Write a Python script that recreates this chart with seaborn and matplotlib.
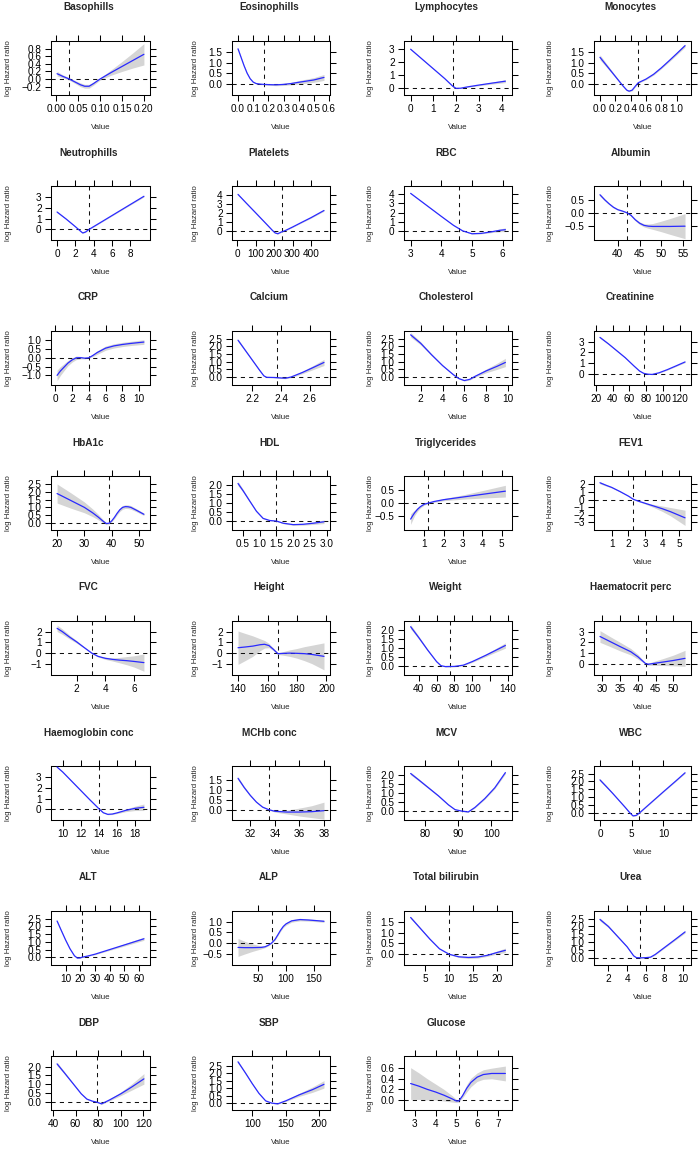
import numpy as np
import pandas as pd
import seaborn as sns
import matplotlib.pyplot as plt

sns.set_style("ticks")
plt.rcParams["font.family"] = ["Liberation Sans", "DejaVu Sans"]

# --- values (x, log HR, half width of the CI band) ---
basophills_x = [0.002, 0.015, 0.03, 0.045, 0.055, 0.065, 0.075, 0.085, 0.10, 0.125, 0.15, 0.175, 0.20]
basophills_y = [0.14, 0.07, 0.0, -0.09, -0.15, -0.19, -0.19, -0.12, 0.0, 0.17, 0.33, 0.49, 0.65]
basophills_ci = [0.06, 0.04, 0.03, 0.04, 0.05, 0.05, 0.05, 0.04, 0.03, 0.07, 0.13, 0.2, 0.28]

eosinophills_x = [0.0, 0.02, 0.04, 0.06, 0.08, 0.10, 0.12, 0.15, 0.2, 0.25, 0.3, 0.35, 0.4, 0.5, 0.567]
eosinophills_y = [1.65, 1.25, 0.85, 0.5, 0.24, 0.08, 0.01, -0.02, -0.04, -0.05, -0.03, 0.01, 0.07, 0.18, 0.3]
eosinophills_ci = [0.04, 0.03, 0.03, 0.03, 0.02, 0.02, 0.02, 0.02, 0.03, 0.04, 0.05, 0.06, 0.08, 0.11, 0.14]

lymphocytes_x = [0, 0.5, 1.0, 1.5, 1.85, 2.0, 2.2, 2.5, 3.0, 3.5, 4.17]
lymphocytes_y = [2.95, 2.2, 1.45, 0.7, 0.12, -0.05, -0.04, 0.06, 0.2, 0.33, 0.5]
lymphocytes_ci = [0.04, 0.03, 0.03, 0.02, 0.02, 0.02, 0.02, 0.03, 0.05, 0.07, 0.11]

monocytes_x = [0.0, 0.1, 0.2, 0.3, 0.35, 0.38, 0.42, 0.46, 0.5, 0.6, 0.7, 0.8, 0.9, 1.0, 1.11]
monocytes_y = [1.25, 0.8, 0.35, -0.1, -0.3, -0.35, -0.3, -0.12, 0.05, 0.22, 0.45, 0.75, 1.08, 1.42, 1.8]
monocytes_ci = [0.12, 0.08, 0.05, 0.03, 0.03, 0.03, 0.03, 0.03, 0.03, 0.03, 0.04, 0.04, 0.05, 0.06, 0.07]

neutrophills_x = [0, 1, 2, 2.5, 2.8, 3.1, 3.5, 5, 7, 9.5]
neutrophills_y = [1.6, 0.95, 0.25, -0.12, -0.33, -0.25, 0.0, 0.76, 1.78, 3.05]
neutrophills_ci = [0.06, 0.04, 0.03, 0.03, 0.03, 0.03, 0.03, 0.03, 0.04, 0.06]

platelets_x = [5, 50, 100, 150, 190, 205, 220, 240, 260, 300, 350, 400, 470]
platelets_y = [4.1, 3.12, 2.05, 0.97, 0.1, -0.2, -0.3, -0.1, 0.05, 0.45, 0.98, 1.5, 2.3]
platelets_ci = [0.06, 0.05, 0.04, 0.04, 0.04, 0.04, 0.04, 0.04, 0.04, 0.04, 0.05, 0.06, 0.08]

rbc_x = [3.0, 3.5, 4.0, 4.4, 4.7, 5.0, 5.3, 5.6, 5.9, 6.09]
rbc_y = [4.1, 2.85, 1.6, 0.62, 0.02, -0.29, -0.25, -0.1, 0.08, 0.15]
rbc_ci = [0.04, 0.03, 0.03, 0.03, 0.03, 0.04, 0.05, 0.08, 0.15, 0.2]

albumin_x = [35.9, 37, 38, 39, 40, 41, 42, 43, 44, 45, 46, 47, 48, 50, 52, 55.4]
albumin_y = [0.69, 0.5, 0.35, 0.22, 0.13, 0.08, 0.02, -0.08, -0.25, -0.38, -0.46, -0.49, -0.5, -0.5, -0.5, -0.49]
albumin_ci = [0.05, 0.04, 0.03, 0.03, 0.02, 0.02, 0.02, 0.03, 0.04, 0.05, 0.06, 0.08, 0.11, 0.2, 0.3, 0.47]

crp_x = [0.2, 0.6, 1.0, 1.5, 2.0, 2.5, 3.0, 3.5, 4.0, 4.5, 5.0, 6.0, 7.0, 8.0, 9.0, 10.6]
crp_y = [-1.0, -0.75, -0.55, -0.3, -0.12, 0.0, 0.01, -0.02, 0.0, 0.14, 0.3, 0.55, 0.68, 0.76, 0.82, 0.9]
crp_ci = [0.3, 0.25, 0.2, 0.15, 0.12, 0.1, 0.07, 0.04, 0.02, 0.06, 0.1, 0.12, 0.12, 0.12, 0.12, 0.13]

calcium_x = [2.10, 2.15, 2.20, 2.25, 2.28, 2.30, 2.35, 2.40, 2.43, 2.47, 2.55, 2.62, 2.70]
calcium_y = [2.4, 1.75, 1.1, 0.45, 0.08, -0.02, -0.03, -0.06, -0.08, 0.0, 0.3, 0.6, 0.95]
calcium_ci = [0.08, 0.06, 0.05, 0.04, 0.03, 0.02, 0.02, 0.03, 0.03, 0.04, 0.08, 0.13, 0.2]

cholesterol_x = [1.08, 2, 3, 4, 5, 5.5, 6, 6.5, 7, 8, 9, 9.76]
cholesterol_y = [2.75, 2.2, 1.45, 0.75, 0.15, -0.1, -0.23, -0.15, 0.05, 0.4, 0.7, 0.95]
cholesterol_ci = [0.15, 0.1, 0.06, 0.04, 0.03, 0.03, 0.03, 0.04, 0.06, 0.12, 0.2, 0.27]

creatinine_x = [25, 35, 45, 55, 65, 72, 77, 82, 87, 95, 105, 115, 126]
creatinine_y = [3.4, 2.8, 2.15, 1.5, 0.75, 0.25, 0.03, -0.05, -0.07, 0.08, 0.38, 0.72, 1.1]
creatinine_ci = [0.08, 0.06, 0.05, 0.04, 0.03, 0.02, 0.02, 0.02, 0.02, 0.03, 0.04, 0.05, 0.06]

hba1c_x = [20, 25, 30, 33, 35, 37, 38, 39, 40, 41, 42, 43, 44, 45, 46, 47, 49, 51.8]
hba1c_y = [1.9, 1.45, 1.0, 0.65, 0.38, 0.08, -0.05, -0.03, 0.12, 0.35, 0.62, 0.85, 1.0, 1.05, 1.04, 1.0, 0.82, 0.55]
hba1c_ci = [0.62, 0.5, 0.35, 0.25, 0.18, 0.1, 0.07, 0.05, 0.06, 0.08, 0.1, 0.11, 0.12, 0.12, 0.12, 0.12, 0.1, 0.08]

hdl_x = [0.35, 0.5, 0.7, 0.9, 1.1, 1.3, 1.5, 1.7, 2.0, 2.3, 2.6, 2.92]
hdl_y = [2.1, 1.7, 1.12, 0.55, 0.15, 0.03, 0.0, -0.12, -0.2, -0.18, -0.12, -0.04]
hdl_ci = [0.12, 0.08, 0.05, 0.04, 0.03, 0.02, 0.02, 0.03, 0.04, 0.05, 0.07, 0.1]

trig_x = [0.29, 0.4, 0.5, 0.65, 0.8, 1.0, 1.2, 1.5, 2.0, 2.5, 3.0, 4.0, 5.2]
trig_y = [-0.6, -0.47, -0.36, -0.23, -0.13, -0.04, 0.0, 0.06, 0.13, 0.18, 0.23, 0.33, 0.45]
trig_ci = [0.2, 0.15, 0.1, 0.07, 0.05, 0.03, 0.02, 0.03, 0.04, 0.06, 0.08, 0.14, 0.22]

fev1_x = [0.31, 0.7, 1.0, 1.5, 2.0, 2.3, 2.6, 3.0, 3.5, 4.0, 4.5, 5.36]
fev1_y = [2.2, 1.85, 1.6, 1.05, 0.45, 0.02, -0.22, -0.5, -0.85, -1.2, -1.6, -2.4]
fev1_ci = [0.15, 0.1, 0.08, 0.06, 0.04, 0.03, 0.05, 0.1, 0.2, 0.35, 0.55, 1.0]

fvc_x = [0.64, 1.0, 1.5, 2.0, 2.5, 3.06, 3.5, 4.0, 4.5, 5.0, 5.5, 6.0, 6.7]
fvc_y = [2.3, 2.0, 1.5, 1.05, 0.55, 0.0, -0.3, -0.48, -0.58, -0.65, -0.7, -0.77, -0.88]
fvc_ci = [0.3, 0.25, 0.18, 0.12, 0.06, 0.03, 0.06, 0.1, 0.15, 0.25, 0.38, 0.52, 0.8]

height_x = [140, 145, 150, 155, 158, 161, 164, 167, 170, 175, 180, 185, 190, 198.3]
height_y = [0.5, 0.57, 0.65, 0.78, 0.82, 0.7, 0.35, -0.05, -0.03, 0.0, -0.02, -0.05, -0.12, -0.3]
height_ci = [1.55, 1.25, 0.95, 0.55, 0.35, 0.2, 0.12, 0.08, 0.15, 0.3, 0.45, 0.65, 0.85, 1.25]

weight_x = [31, 40, 50, 60, 65, 70, 80, 90, 100, 115, 125, 137]
weight_y = [2.2, 1.6, 0.9, 0.25, 0.02, -0.03, -0.02, 0.05, 0.25, 0.6, 0.85, 1.15]
weight_ci = [0.12, 0.08, 0.05, 0.03, 0.02, 0.02, 0.02, 0.03, 0.04, 0.07, 0.1, 0.15]

haematocrit_x = [29.3, 32, 35, 38, 40, 42.2, 43, 45, 47, 50, 53.3]
haematocrit_y = [2.55, 2.1, 1.6, 1.12, 0.65, 0.0, -0.05, 0.05, 0.15, 0.3, 0.5]
haematocrit_ci = [0.55, 0.47, 0.4, 0.3, 0.22, 0.05, 0.1, 0.22, 0.32, 0.5, 0.75]

haemoglobin_x = [9.38, 10, 11, 12, 13, 14, 14.5, 15, 15.5, 16, 17, 18, 19.0]
haemoglobin_y = [3.9, 3.45, 2.6, 1.75, 0.9, 0.08, -0.3, -0.45, -0.42, -0.32, -0.08, 0.1, 0.2]
haemoglobin_ci = [0.03, 0.03, 0.03, 0.03, 0.03, 0.02, 0.03, 0.04, 0.05, 0.06, 0.12, 0.2, 0.3]

mchb_x = [31.0, 31.5, 32, 32.5, 33, 33.5, 34, 35, 36, 37, 38]
mchb_y = [1.58, 1.12, 0.72, 0.38, 0.13, 0.0, -0.08, -0.12, -0.12, -0.1, -0.05]
mchb_ci = [0.08, 0.06, 0.04, 0.03, 0.02, 0.02, 0.04, 0.1, 0.2, 0.3, 0.43]

mcv_x = [75.6, 78, 81, 84, 87, 89, 91, 93, 95, 98, 101, 104.2]
mcv_y = [2.1, 1.75, 1.3, 0.85, 0.35, 0.08, 0.0, -0.05, 0.2, 0.7, 1.3, 2.15]
mcv_ci = [0.08, 0.06, 0.05, 0.04, 0.03, 0.02, 0.02, 0.02, 0.03, 0.04, 0.05, 0.07]

wbc_x = [0, 1, 2, 3, 4, 4.7, 5.2, 5.7, 6.2, 8, 10, 12, 13.4]
wbc_y = [2.1, 1.68, 1.25, 0.8, 0.35, 0.02, -0.18, -0.15, 0.0, 0.64, 1.35, 2.05, 2.55]
wbc_ci = [0.08, 0.06, 0.04, 0.03, 0.03, 0.03, 0.03, 0.02, 0.02, 0.02, 0.02, 0.03, 0.04]

alt_x = [4.2, 7, 10, 13, 16, 18, 20, 21, 25, 30, 40, 50, 63.3]
alt_y = [2.35, 1.75, 1.12, 0.55, 0.1, -0.05, -0.04, 0.0, 0.08, 0.2, 0.5, 0.8, 1.2]
alt_ci = [0.05, 0.04, 0.03, 0.02, 0.02, 0.02, 0.02, 0.02, 0.02, 0.03, 0.05, 0.07, 0.1]

alp_x = [13.4, 25, 40, 55, 62, 68, 73.8, 80, 85, 90, 95, 100, 110, 125, 140, 155, 168.3]
alp_y = [-0.2, -0.21, -0.21, -0.2, -0.17, -0.1, 0.0, 0.17, 0.38, 0.6, 0.78, 0.9, 1.04, 1.1, 1.08, 1.05, 1.02]
alp_ci = [0.42, 0.3, 0.17, 0.07, 0.04, 0.03, 0.02, 0.03, 0.04, 0.05, 0.05, 0.06, 0.06, 0.06, 0.05, 0.05, 0.05]

bilirubin_x = [2.0, 4, 6, 8, 10, 12, 14, 16, 18, 20, 21.7]
bilirubin_y = [1.7, 1.2, 0.7, 0.25, 0.0, -0.12, -0.15, -0.13, -0.05, 0.08, 0.18]
bilirubin_ci = [0.05, 0.04, 0.03, 0.02, 0.02, 0.03, 0.05, 0.05, 0.05, 0.07, 0.1]

urea_x = [1.1, 2, 3, 4, 4.7, 5.0, 5.5, 6.0, 6.5, 7, 8, 9, 10.2]
urea_y = [2.45, 2.0, 1.35, 0.7, 0.12, 0.0, -0.01, 0.0, 0.03, 0.2, 0.65, 1.1, 1.65]
urea_ci = [0.1, 0.07, 0.05, 0.03, 0.02, 0.02, 0.02, 0.02, 0.02, 0.03, 0.04, 0.05, 0.07]

dbp_x = [43.6, 50, 55, 60, 65, 70, 75, 78.6, 83, 90, 100, 110, 120.5]
dbp_y = [2.15, 1.65, 1.25, 0.85, 0.45, 0.15, 0.03, -0.02, -0.12, 0.1, 0.45, 0.85, 1.3]
dbp_ci = [0.1, 0.07, 0.05, 0.04, 0.03, 0.03, 0.02, 0.02, 0.03, 0.05, 0.1, 0.18, 0.3]

sbp_x = [78.8, 90, 100, 110, 120, 129, 138, 150, 170, 190, 207]
sbp_y = [2.75, 2.0, 1.3, 0.65, 0.15, 0.0, -0.05, 0.15, 0.55, 0.9, 1.25]
sbp_ci = [0.08, 0.05, 0.04, 0.03, 0.02, 0.02, 0.02, 0.04, 0.1, 0.18, 0.25]

glucose_x = [2.8, 3.2, 3.6, 4.0, 4.4, 4.8, 5.0, 5.12, 5.3, 5.5, 5.7, 6.0, 6.3, 6.7, 7.36]
glucose_y = [0.31, 0.26, 0.2, 0.15, 0.09, 0.02, -0.02, -0.02, 0.08, 0.22, 0.33, 0.43, 0.48, 0.5, 0.5]
glucose_ci = [0.3, 0.25, 0.2, 0.15, 0.11, 0.06, 0.03, 0.02, 0.04, 0.07, 0.08, 0.08, 0.09, 0.1, 0.14]

panel_names = ["Basophills", "Eosinophills", "Lymphocytes", "Monocytes",
               "Neutrophills", "Platelets", "RBC", "Albumin",
               "CRP", "Calcium", "Cholesterol", "Creatinine",
               "HbA1c", "HDL", "Triglycerides", "FEV1",
               "FVC", "Height", "Weight", "Haematocrit perc",
               "Haemoglobin conc", "MCHb conc", "MCV", "WBC",
               "ALT", "ALP", "Total bilirubin", "Urea",
               "DBP", "SBP", "Glucose"]

# reference value (vertical dashed line) per panel
ref_values = [0.030, 0.17, 1.88, 0.50, 3.5, 243, 4.58, 42.1,
              4.0, 2.37, 5.2, 77, 39, 1.5, 1.2, 2.3,
              3.06, 167, 74.8, 42.2, 14.0, 33.5, 91, 6.2,
              21, 73.8, 10, 5.4, 78.6, 129, 5.12]

y_limits = [(-0.42, 1.0), (-0.53, 2.02), (-0.56, 3.58), (-0.53, 2.02),
            (-0.98, 4.0), (-1.0, 5.04), (-0.97, 4.9), (-1.01, 1.02),
            (-1.55, 1.53), (-0.52, 3.0), (-0.52, 3.0), (-1.06, 4.0),
            (-0.47, 3.04), (-0.5, 2.52), (-1.01, 1.02), (-4.0, 3.09),
            (-2.03, 2.98), (-2.03, 2.98), (-0.5, 2.52), (-1.06, 4.0),
            (-0.97, 4.0), (-0.52, 2.2), (-0.5, 2.52), (-0.44, 2.98),
            (-0.5, 3.0), (-1.02, 1.5), (-0.5, 2.0), (-0.47, 2.99),
            (-0.47, 2.6), (-0.46, 3.14), (-0.19, 0.83)]

x_tick_labels = [["0.00", "0.05", "0.10", "0.15", "0.20"],
                 ["0.0", "0.1", "0.2", "0.3", "0.4", "0.5", "0.6"],
                 ["0", "1", "2", "3", "4"],
                 ["0.0", "0.2", "0.4", "0.6", "0.8", "1.0"],
                 ["0", "2", "4", "6", "8"],
                 ["0", "100", "200", "300", "400"],
                 ["3", "4", "5", "6"],
                 ["40", "45", "50", "55"],
                 ["0", "2", "4", "6", "8", "10"],
                 ["2.2", "2.4", "2.6"],
                 ["2", "4", "6", "8", "10"],
                 ["20", "40", "60", "80", "100", "120"],
                 ["20", "30", "40", "50"],
                 ["0.5", "1.0", "1.5", "2.0", "2.5", "3.0"],
                 ["1", "2", "3", "4", "5"],
                 ["1", "2", "3", "4", "5"],
                 ["2", "4", "6"],
                 ["140", "160", "180", "200"],
                 ["40", "60", "80", "100", "120", "140"],
                 ["30", "35", "40", "45", "50"],
                 ["10", "12", "14", "16", "18"],
                 ["32", "34", "36", "38"],
                 ["80", "90", "100"],
                 ["0", "5", "10"],
                 ["10", "20", "30", "40", "50", "60"],
                 ["50", "100", "150"],
                 ["5", "10", "15", "20"],
                 ["2", "4", "6", "8", "10"],
                 ["40", "60", "80", "100", "120"],
                 ["100", "150", "200"],
                 ["3", "4", "5", "6", "7"]]

y_tick_labels = [["−0.2", "0.0", "0.2", "0.4", "0.6", "0.8"],
                 ["0.0", "0.5", "1.0", "1.5"],
                 ["0", "1", "2", "3"],
                 ["0.0", "0.5", "1.0", "1.5"],
                 ["0", "1", "2", "3"],
                 ["0", "1", "2", "3", "4"],
                 ["0", "1", "2", "3", "4"],
                 ["−0.5", "0.0", "0.5"],
                 ["−1.0", "−0.5", "0.0", "0.5", "1.0"],
                 ["0.0", "0.5", "1.0", "1.5", "2.0", "2.5"],
                 ["0.0", "0.5", "1.0", "1.5", "2.0", "2.5"],
                 ["0", "1", "2", "3"],
                 ["0.0", "0.5", "1.0", "1.5", "2.0", "2.5"],
                 ["0.0", "0.5", "1.0", "1.5", "2.0"],
                 ["−0.5", "0.0", "0.5"],
                 ["−3", "−2", "−1", "0", "1", "2"],
                 ["−1", "0", "1", "2"],
                 ["−1", "0", "1", "2"],
                 ["0.0", "0.5", "1.0", "1.5", "2.0"],
                 ["0", "1", "2", "3"],
                 ["0", "1", "2", "3"],
                 ["0.0", "0.5", "1.0", "1.5"],
                 ["0.0", "0.5", "1.0", "1.5", "2.0"],
                 ["0.0", "0.5", "1.0", "1.5", "2.0", "2.5"],
                 ["0.0", "0.5", "1.0", "1.5", "2.0", "2.5"],
                 ["−0.5", "0.0", "0.5", "1.0"],
                 ["0.0", "0.5", "1.0", "1.5"],
                 ["0.0", "0.5", "1.0", "1.5", "2.0", "2.5"],
                 ["0.0", "0.5", "1.0", "1.5", "2.0"],
                 ["0.0", "0.5", "1.0", "1.5", "2.0", "2.5"],
                 ["0.0", "0.2", "0.4", "0.6"]]

curves = [(basophills_x, basophills_y, basophills_ci), (eosinophills_x, eosinophills_y, eosinophills_ci),
          (lymphocytes_x, lymphocytes_y, lymphocytes_ci), (monocytes_x, monocytes_y, monocytes_ci),
          (neutrophills_x, neutrophills_y, neutrophills_ci), (platelets_x, platelets_y, platelets_ci),
          (rbc_x, rbc_y, rbc_ci), (albumin_x, albumin_y, albumin_ci),
          (crp_x, crp_y, crp_ci), (calcium_x, calcium_y, calcium_ci),
          (cholesterol_x, cholesterol_y, cholesterol_ci), (creatinine_x, creatinine_y, creatinine_ci),
          (hba1c_x, hba1c_y, hba1c_ci), (hdl_x, hdl_y, hdl_ci),
          (trig_x, trig_y, trig_ci), (fev1_x, fev1_y, fev1_ci),
          (fvc_x, fvc_y, fvc_ci), (height_x, height_y, height_ci),
          (weight_x, weight_y, weight_ci), (haematocrit_x, haematocrit_y, haematocrit_ci),
          (haemoglobin_x, haemoglobin_y, haemoglobin_ci), (mchb_x, mchb_y, mchb_ci),
          (mcv_x, mcv_y, mcv_ci), (wbc_x, wbc_y, wbc_ci),
          (alt_x, alt_y, alt_ci), (alp_x, alp_y, alp_ci),
          (bilirubin_x, bilirubin_y, bilirubin_ci), (urea_x, urea_y, urea_ci),
          (dbp_x, dbp_y, dbp_ci), (sbp_x, sbp_y, sbp_ci),
          (glucose_x, glucose_y, glucose_ci)]


def to_num(labels):
    return [float(s.replace("−", "-")) for s in labels]


# layout in pixels (lattice-like grid, 4 columns x 8 rows)
W, H = 700, 1150
col_left = [51, 232, 404, 594]
col_right = [150, 330, 512, 691]
ylab_centre = [8, 195, 370, 550]
top0, row_step, box_h = 41, 145, 54
dash = (0, (4, 4))

fig = plt.figure(figsize=(7, 11.5), dpi=100)

for i, name in enumerate(panel_names):
    r, c = divmod(i, 4)
    L, R = col_left[c], col_right[c]
    top = top0 + r * row_step
    ax = fig.add_axes([L / W, 1 - (top + box_h) / H, (R - L) / W, box_h / H])

    xs, ys, ci = curves[i]
    df = pd.DataFrame({"Value": xs, "logHR": ys})
    df["lower"] = df["logHR"] - np.array(ci)
    df["upper"] = df["logHR"] + np.array(ci)

    ax.fill_between(df["Value"], df["lower"], df["upper"], color="#d5d5d5", lw=0, zorder=1)
    sns.lineplot(data=df, x="Value", y="logHR", ax=ax, color="#2a2aff", lw=0.9,
                 estimator=None, sort=False, zorder=3)
    ax.axhline(0, color="#111111", lw=0.75, ls=dash, zorder=2)
    ax.axvline(ref_values[i], color="#111111", lw=0.75, ls=dash, zorder=2)

    span = max(xs) - min(xs)
    ax.set_xlim(min(xs) - 0.07 * span, max(xs) + 0.07 * span)
    ax.set_ylim(*y_limits[i])
    xl = x_tick_labels[i]
    yl = y_tick_labels[i]
    # Weight: the crowded "120" label is not printed, only its tick
    shown = ["" if (name == "Weight" and s == "120") else s for s in xl]
    ax.set_xticks(to_num(xl), shown)
    ax.set_yticks(to_num(yl), yl)

    ax.tick_params(direction="out", length=4.2, width=0.75, top=True, right=True,
                   labeltop=False, labelright=False, labelsize=7.2, pad=2.5, colors="black")
    for sp in ax.spines.values():
        sp.set_linewidth(0.75)
        sp.set_color("black")

    ax.set_xlabel("Value", fontsize=5.7)
    ax.xaxis.set_label_coords(0.5, -29 / box_h)
    ax.set_ylabel("log Hazard ratio", fontsize=5.7)
    ax.yaxis.set_label_coords((ylab_centre[c] + 4 - L) / (R - L), 0.5)

    fig.text(((L + R) / 2 - 12) / W, 1 - (top - 33.5) / H, name,
             ha="center", va="center", fontsize=7.2, fontweight="bold")

fig.savefig("out.png", dpi=100, facecolor="white")
